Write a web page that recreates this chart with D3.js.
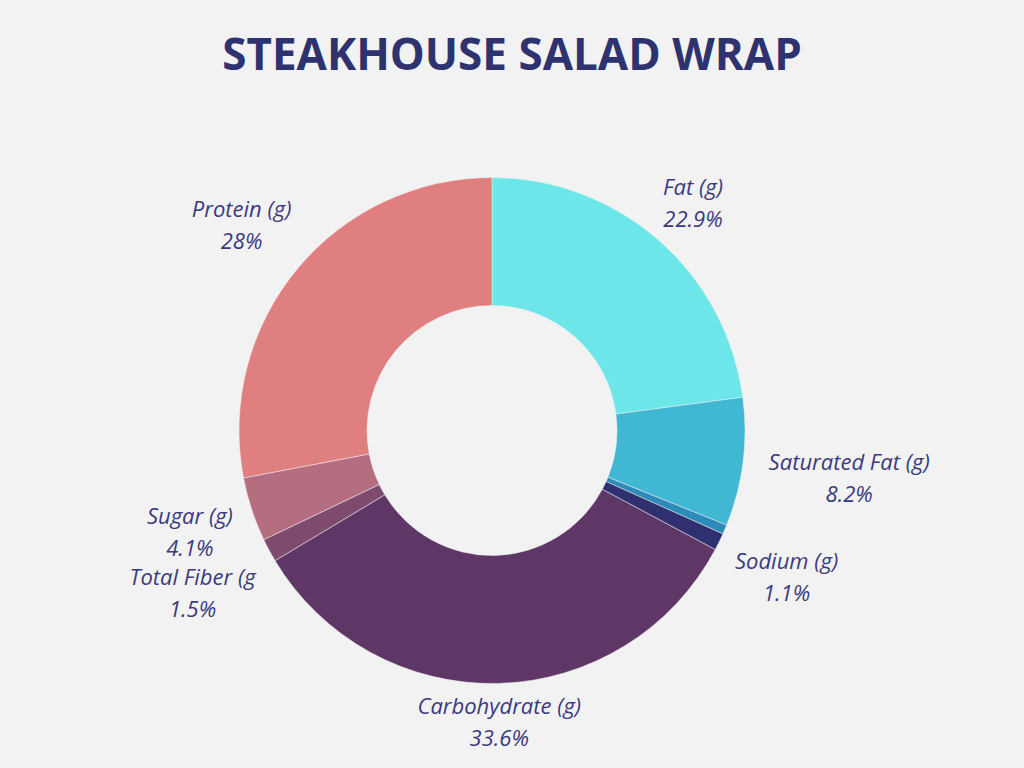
<!DOCTYPE html>
<html>
<head>
<meta charset="utf-8">
<script src="https://cdn.jsdelivr.net/npm/d3@7"></script>
<style>
  body { margin: 0; background: #f2f2f2; }
  text { font-family: "Open Sans", "Noto Sans", sans-serif; }
</style>
</head>
<body>
<svg id="chart"></svg>
<script>
var labels = ["Fat (g)", "Saturated Fat (g)", "", "Sodium (g)", "Carbohydrate (g)", "Total Fiber (g", "Sugar (g)", "Protein (g)"];
var values = [22.9, 8.2, 0.6, 1.1, 33.6, 1.5, 4.1, 28];
var pctText = ["22.9%", "8.2%", "", "1.1%", "33.6%", "1.5%", "4.1%", "28%"];
var colors = ["#6ce6e8", "#40b8d4", "#2e8ab8", "#2e3070", "#5e3766", "#7e4a6e", "#b56d80", "#e07f80"];
// label distance from centre, tuned per slice
var labelRadius = [305, 360, 0, 328, 290, 340, 318, 325];

var width = 1024, height = 768, cx = 492, cy = 430.5;

var svg = d3.select("#chart").attr("width", width).attr("height", height);

svg.append("text")
  .attr("x", width / 2).attr("y", 70)
  .attr("text-anchor", "middle")
  .attr("font-size", 44).attr("font-weight", "bold")
  .attr("fill", "#2e3370")
  .text("STEAKHOUSE SALAD WRAP");

var pie = d3.pie().sort(null).value(function(d) { return d; });
var arcs = pie(values);
var arc = d3.arc().innerRadius(125).outerRadius(253);

var g = svg.append("g").attr("transform", "translate(" + cx + "," + cy + ")");

g.selectAll("path")
  .data(arcs)
  .enter().append("path")
    .attr("d", arc)
    .attr("fill", function(d, i) { return colors[i]; })
    .attr("stroke", "#f2f2f2").attr("stroke-width", 0.5);

var lab = g.selectAll("g.lab")
  .data(arcs.filter(function(d, i) { return labels[i] !== ""; }))
  .enter().append("g")
    .attr("class", "lab")
    .attr("transform", function(d) {
      var a = (d.startAngle + d.endAngle) / 2, r = labelRadius[d.index];
      return "translate(" + (Math.sin(a) * r) + "," + (-Math.cos(a) * r) + ")";
    });

lab.append("text")
  .attr("text-anchor", "middle").attr("y", -6)
  .attr("font-size", 22).attr("font-style", "italic").attr("fill", "#3a3a80")
  .text(function(d) { return labels[d.index]; });

lab.append("text")
  .attr("text-anchor", "middle").attr("y", 26)
  .attr("font-size", 22).attr("font-style", "italic").attr("fill", "#3a3a80")
  .text(function(d) { return pctText[d.index]; });
</script>
</body>
</html>
